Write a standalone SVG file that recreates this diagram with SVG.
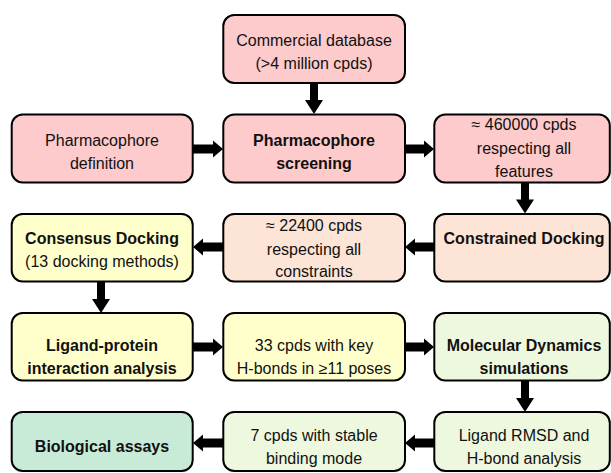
<svg xmlns="http://www.w3.org/2000/svg" width="611" height="473" viewBox="0 0 611 473">
<style>
.box{stroke:#000;stroke-width:2}
.pink{fill:#FDCBCB}
.peach{fill:#FCE4D6}
.yellow{fill:#FFFFCC}
.lgreen{fill:#EEF8DE}
.mint{fill:#C8EBD8}
text{font-family:"Liberation Sans",Arial,sans-serif;font-size:16px;fill:#111;text-anchor:middle}
.b{font-weight:bold}
.arrow{fill:#000}
</style>
<rect width="611" height="473" fill="#fff"/>
<g id="connectors">
<polygon class="arrow" points="310,83 318,83 318,100 323,100 314,114 305,100 310,100"/>
<polygon class="arrow" points="193,144.5 213,144.5 213,140.5 223,149 213,157.5 213,153.5 193,153.5"/>
<polygon class="arrow" points="405,144.5 424,144.5 424,140.5 434,149 424,157.5 424,153.5 405,153.5"/>
<polygon class="arrow" points="521,182.5 529,182.5 529,199.5 534,199.5 525,213.5 516,199.5 521,199.5"/>
<polygon class="arrow" points="434,242.5 415,242.5 415,238.5 405,247 415,255.5 415,251.5 434,251.5"/>
<polygon class="arrow" points="223,242.5 203,242.5 203,238.5 193,247 203,255.5 203,251.5 223,251.5"/>
<polygon class="arrow" points="97,281.5 105,281.5 105,299 110,299 101,313 92,299 97,299"/>
<polygon class="arrow" points="193,342.5 213,342.5 213,338.5 223,347 213,355.5 213,351.5 193,351.5"/>
<polygon class="arrow" points="405,342.5 424,342.5 424,338.5 434,347 424,355.5 424,351.5 405,351.5"/>
<polygon class="arrow" points="521,380.5 529,380.5 529,398 534,398 525,412 516,398 521,398"/>
<polygon class="arrow" points="434,438.5 415,438.5 415,434.5 405,443 415,451.5 415,447.5 434,447.5"/>
<polygon class="arrow" points="223,438.5 203,438.5 203,434.5 193,443 203,451.5 203,447.5 223,447.5"/>
</g>
<g id="commercial">
<rect class="box pink" x="223.3" y="15" width="181.7" height="68" rx="11"/>
<text x="314" y="45.5">Commercial database</text>
<text x="314" y="69">(&gt;4 million cpds)</text>
</g>
<g id="pharm-def">
<rect class="box pink" x="11.7" y="114.5" width="181" height="68" rx="11"/>
<text x="102" y="145.5">Pharmacophore</text>
<text x="102" y="168.5">definition</text>
</g>
<g id="pharm-screen">
<rect class="box pink" x="223.3" y="114.5" width="181.7" height="68" rx="11"/>
<text class="b" x="314" y="145.5">Pharmacophore</text>
<text class="b" x="314" y="168.5">screening</text>
</g>
<g id="cpds460000">
<rect class="box pink" x="434.3" y="114.5" width="175.5" height="68" rx="11"/>
<text x="524" y="130">≈ 460000 cpds</text>
<text x="524" y="153.5">respecting all</text>
<text x="524" y="177">features</text>
</g>
<g id="consensus">
<rect class="box yellow" x="11.7" y="214" width="181" height="67.5" rx="11"/>
<text class="b" x="102" y="244">Consensus Docking</text>
<text x="102" y="267">(13 docking methods)</text>
</g>
<g id="cpds22400">
<rect class="box peach" x="223.3" y="214" width="181.7" height="67.5" rx="11"/>
<text x="314" y="231">≈ 22400 cpds</text>
<text x="314" y="254.5">respecting all</text>
<text x="314" y="277">constraints</text>
</g>
<g id="constrained">
<rect class="box peach" x="434.3" y="214" width="175.5" height="67.5" rx="11"/>
<text class="b" x="524" y="244">Constrained Docking</text>
</g>
<g id="ligand-protein">
<rect class="box yellow" x="11.7" y="313" width="181" height="67.5" rx="11"/>
<text class="b" x="102" y="350.5">Ligand-protein</text>
<text class="b" x="102" y="373.5">interaction analysis</text>
</g>
<g id="cpds33">
<rect class="box yellow" x="223.3" y="313" width="181.7" height="67.5" rx="11"/>
<text x="314" y="350.5">33 cpds with key</text>
<text x="314" y="373.5">H-bonds in ≥11 poses</text>
</g>
<g id="md">
<rect class="box lgreen" x="434.3" y="313" width="175.5" height="67.5" rx="11"/>
<text class="b" x="524" y="350.5">Molecular Dynamics</text>
<text class="b" x="524" y="373.5">simulations</text>
</g>
<g id="bio">
<rect class="box mint" x="11.7" y="412" width="181" height="59" rx="11"/>
<text class="b" x="102" y="451.5">Biological assays</text>
</g>
<g id="cpds7">
<rect class="box lgreen" x="223.3" y="412" width="181.7" height="59" rx="11"/>
<text x="314" y="440.5">7 cpds with stable</text>
<text x="314" y="464">binding mode</text>
</g>
<g id="rmsd">
<rect class="box lgreen" x="434.3" y="412" width="175.5" height="59" rx="11"/>
<text x="524" y="440.5">Ligand RMSD and</text>
<text x="524" y="464">H-bond analysis</text>
</g>
</svg>
